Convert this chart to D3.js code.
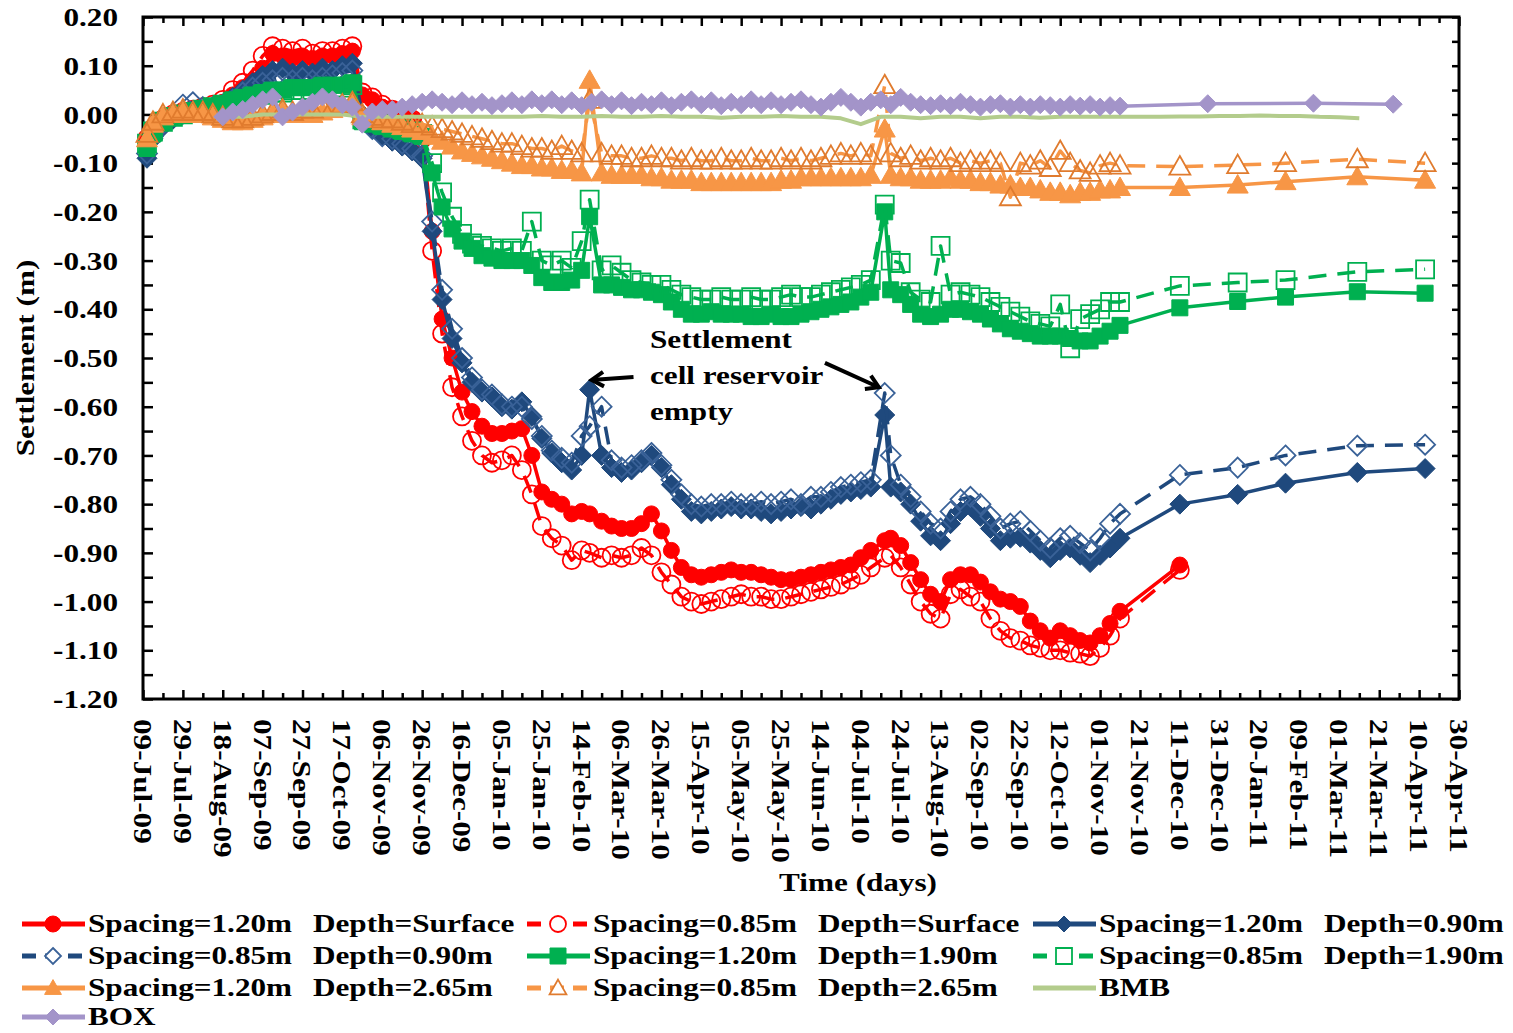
<!DOCTYPE html>
<html>
<head>
<meta charset="utf-8">
<script src="https://cdn.jsdelivr.net/npm/d3@7"></script>
<style>
  body { margin: 0; background: #ffffff; }
  text { font-family: "Liberation Serif", "Times New Roman", serif; font-weight: bold; fill: #000; }
</style>
</head>
<body>
<svg id="chart" width="1513" height="1033"></svg>
<script>
// ---- data (days counted from 09-Jul-09) ----
var days = [
  2,5,10,15,20,25,30,35,40,45,
  50,55,60,65,70,75,80,85,90,95,
  100,105,110,115,120,125,130,135,140,145,
  150,155,160,165,170,175,180,185,190,195,
  200,205,210,215,220,224,230,235,240,245,
  250,255,260,265,270,275,280,285,290,295,
  300,305,310,315,320,325,330,335,340,345,
  350,355,360,365,372,375,380,385,390,395,
  400,405,410,415,420,425,430,435,440,445,
  450,455,460,465,470,475,480,485,490,
  520,549,573,609,643
];

var red120 = [
  -0.05,-0.03,-0.01,0.0,0.005,0.01,0.01,0.015,0.025,0.04,
  0.055,0.07,0.095,0.125,0.12,0.115,0.12,0.115,0.12,0.12,
  0.125,0.13,0.04,0.03,0.015,0.01,0.005,-0.01,-0.04,-0.24,
  -0.42,-0.50,-0.57,-0.61,-0.64,-0.655,-0.655,-0.65,-0.645,-0.70,
  -0.775,-0.79,-0.80,-0.82,-0.815,-0.82,-0.835,-0.845,-0.85,-0.85,
  -0.84,-0.82,-0.855,-0.895,-0.93,-0.945,-0.95,-0.945,-0.94,-0.935,
  -0.94,-0.94,-0.945,-0.95,-0.955,-0.955,-0.95,-0.945,-0.94,-0.935,
  -0.93,-0.925,-0.91,-0.895,-0.875,-0.87,-0.885,-0.92,-0.955,-0.985,
  -1.0,-0.955,-0.945,-0.945,-0.96,-0.98,-0.995,-1.0,-1.01,-1.04,
  -1.06,-1.075,-1.06,-1.07,-1.08,-1.085,-1.07,-1.045,-1.02,
  -0.925,null,null,null,null
];

var red085 = [
  -0.05,-0.03,-0.01,0.0,0.005,0.01,0.015,0.02,0.03,0.05,
  0.065,0.09,0.12,0.14,0.135,0.13,0.135,0.125,0.13,0.13,
  0.135,0.14,0.045,0.035,0.02,0.01,0.0,-0.01,-0.05,-0.28,
  -0.45,-0.56,-0.62,-0.67,-0.70,-0.715,-0.71,-0.70,-0.73,-0.78,
  -0.845,-0.87,-0.885,-0.915,-0.895,-0.90,-0.91,-0.905,-0.91,-0.905,
  -0.89,-0.905,-0.94,-0.965,-0.99,-1.0,-1.005,-1.0,-0.995,-0.99,
  -0.985,-0.99,-0.99,-0.995,-0.995,-0.99,-0.985,-0.98,-0.975,-0.97,
  -0.965,-0.955,-0.945,-0.93,-0.91,-0.905,-0.93,-0.965,-1.0,-1.025,
  -1.035,-0.985,-0.975,-0.99,-1.0,-1.035,-1.06,-1.075,-1.08,-1.09,
  -1.095,-1.1,-1.1,-1.105,-1.107,-1.112,-1.095,-1.07,-1.035,
  -0.935,null,null,null,null
];

var blue120 = [
  -0.09,-0.05,-0.025,-0.01,0.0,0.005,0.01,0.015,0.02,0.035,
  0.05,0.065,0.08,0.09,0.095,0.085,0.09,0.085,0.095,0.09,
  0.10,0.105,0.0,-0.03,-0.045,-0.055,-0.065,-0.075,-0.09,-0.24,
  -0.38,-0.46,-0.51,-0.55,-0.57,-0.58,-0.60,-0.605,-0.59,-0.62,
  -0.665,-0.695,-0.715,-0.73,-0.70,-0.565,-0.70,-0.725,-0.735,-0.73,
  -0.715,-0.70,-0.725,-0.76,-0.79,-0.815,-0.82,-0.815,-0.81,-0.805,
  -0.81,-0.81,-0.815,-0.82,-0.815,-0.81,-0.805,-0.81,-0.80,-0.79,
  -0.78,-0.775,-0.77,-0.765,-0.617,-0.765,-0.775,-0.80,-0.835,-0.865,
  -0.875,-0.84,-0.815,-0.805,-0.825,-0.85,-0.875,-0.87,-0.868,-0.88,
  -0.895,-0.91,-0.895,-0.89,-0.905,-0.92,-0.905,-0.89,-0.87,
  -0.80,-0.78,-0.757,-0.735,-0.727
];

var blue085 = [
  -0.08,-0.045,-0.02,0.0,0.02,0.025,0.015,0.015,0.02,0.03,
  0.045,0.055,0.065,0.07,0.075,0.07,0.075,0.07,0.075,0.08,
  0.085,0.09,-0.005,-0.03,-0.045,-0.05,-0.06,-0.07,-0.085,-0.22,
  -0.36,-0.44,-0.50,-0.54,-0.565,-0.575,-0.595,-0.60,-0.60,-0.625,
  -0.66,-0.69,-0.705,-0.715,-0.66,-0.64,-0.60,-0.71,-0.725,-0.72,
  -0.71,-0.695,-0.72,-0.75,-0.78,-0.80,-0.805,-0.80,-0.80,-0.795,
  -0.80,-0.80,-0.795,-0.80,-0.795,-0.79,-0.80,-0.785,-0.785,-0.775,
  -0.765,-0.76,-0.755,-0.75,-0.572,-0.70,-0.76,-0.785,-0.815,-0.84,
  -0.85,-0.815,-0.79,-0.785,-0.80,-0.825,-0.85,-0.84,-0.835,-0.855,
  -0.875,-0.89,-0.87,-0.865,-0.88,-0.895,-0.87,-0.84,-0.82,
  -0.74,-0.725,-0.70,-0.68,-0.678
];

var green120 = [
  -0.07,-0.04,-0.015,-0.005,0.0,0.005,0.01,0.015,0.02,0.03,
  0.035,0.04,0.045,0.05,0.05,0.055,0.055,0.055,0.06,0.06,
  0.06,0.065,-0.015,-0.02,-0.025,-0.03,-0.035,-0.04,-0.045,-0.12,
  -0.19,-0.235,-0.26,-0.275,-0.29,-0.295,-0.30,-0.30,-0.30,-0.31,
  -0.335,-0.345,-0.345,-0.34,-0.32,-0.21,-0.35,-0.35,-0.355,-0.36,
  -0.36,-0.365,-0.37,-0.385,-0.40,-0.41,-0.41,-0.405,-0.41,-0.41,
  -0.41,-0.415,-0.415,-0.41,-0.415,-0.415,-0.41,-0.405,-0.40,-0.395,
  -0.39,-0.385,-0.375,-0.365,-0.20,-0.36,-0.37,-0.39,-0.41,-0.415,
  -0.41,-0.40,-0.40,-0.405,-0.41,-0.42,-0.43,-0.44,-0.445,-0.45,
  -0.455,-0.455,-0.455,-0.46,-0.465,-0.465,-0.455,-0.445,-0.433,
  -0.397,-0.384,-0.375,-0.364,-0.367
];

var green085 = [
  -0.06,-0.035,-0.015,-0.005,0.0,0.005,0.01,0.015,0.02,0.025,
  0.03,0.035,0.04,0.045,0.045,0.05,0.05,0.05,0.055,0.055,
  0.055,0.06,-0.01,-0.015,-0.02,-0.025,-0.03,-0.035,-0.04,-0.10,
  -0.16,-0.21,-0.245,-0.265,-0.27,-0.275,-0.28,-0.275,-0.28,-0.22,
  -0.30,-0.31,-0.30,-0.315,-0.26,-0.175,-0.32,-0.31,-0.325,-0.34,
  -0.345,-0.35,-0.35,-0.36,-0.37,-0.375,-0.38,-0.38,-0.375,-0.38,
  -0.38,-0.375,-0.38,-0.38,-0.375,-0.37,-0.375,-0.375,-0.37,-0.365,
  -0.36,-0.355,-0.35,-0.34,-0.185,-0.30,-0.305,-0.365,-0.38,-0.385,
  -0.27,-0.37,-0.365,-0.37,-0.375,-0.385,-0.395,-0.405,-0.415,-0.425,
  -0.43,-0.435,-0.39,-0.48,-0.42,-0.41,-0.40,-0.385,-0.385,
  -0.352,-0.345,-0.34,-0.323,-0.318
];

var orange120 = [
  -0.05,-0.02,-0.005,0.0,0.005,0.0,0.0,-0.005,-0.01,-0.015,
  -0.015,-0.01,-0.005,0.0,0.005,0.0,0.005,0.0,0.005,0.01,
  0.015,0.02,-0.005,-0.01,-0.015,-0.02,-0.025,-0.03,-0.035,-0.045,
  -0.055,-0.065,-0.075,-0.08,-0.085,-0.09,-0.095,-0.10,-0.105,-0.105,
  -0.11,-0.11,-0.115,-0.115,-0.12,0.07,-0.12,-0.125,-0.125,-0.125,
  -0.125,-0.13,-0.13,-0.135,-0.135,-0.135,-0.14,-0.14,-0.14,-0.14,
  -0.14,-0.14,-0.14,-0.14,-0.135,-0.135,-0.13,-0.13,-0.13,-0.13,
  -0.13,-0.13,-0.13,-0.125,-0.03,-0.125,-0.13,-0.13,-0.135,-0.135,
  -0.135,-0.13,-0.135,-0.135,-0.14,-0.14,-0.145,-0.145,-0.15,-0.15,
  -0.155,-0.16,-0.16,-0.165,-0.16,-0.16,-0.155,-0.155,-0.15,
  -0.15,-0.145,-0.138,-0.128,-0.135
];

var orange085 = [
  -0.04,-0.015,0.0,0.005,0.01,0.005,0.005,0.0,-0.005,-0.01,
  -0.01,-0.005,0.0,0.005,0.01,0.005,0.01,0.01,0.015,0.015,
  0.02,0.025,0.0,-0.005,-0.01,-0.01,-0.015,-0.02,-0.02,-0.025,
  -0.03,-0.035,-0.04,-0.045,-0.05,-0.055,-0.06,-0.06,-0.065,-0.07,
  -0.07,-0.075,-0.065,-0.075,-0.08,0.03,-0.08,-0.085,-0.085,-0.09,
  -0.09,-0.085,-0.09,-0.09,-0.095,-0.09,-0.095,-0.095,-0.09,-0.095,
  -0.095,-0.09,-0.095,-0.095,-0.09,-0.095,-0.09,-0.095,-0.09,-0.085,
  -0.08,-0.085,-0.08,-0.085,0.06,-0.08,-0.09,-0.085,-0.095,-0.09,
  -0.095,-0.09,-0.10,-0.095,-0.10,-0.095,-0.10,-0.17,-0.10,-0.105,
  -0.095,-0.11,-0.075,-0.10,-0.115,-0.12,-0.105,-0.10,-0.105,
  -0.107,-0.104,-0.10,-0.092,-0.10
];

var bmbDays = [
  40,50,60,70,80,90,100,110,120,130,140,150,160,170,180,190,200,210,220,230,
  240,250,260,270,280,290,300,310,320,330,340,350,360,370,380,390,400,410,420,430,
  440,450,460,470,480,490,500,510,520,530,540,550,560,570,580,590,600,610
];
var bmbValues = [
  -0.005,-0.005,0.0,0.0,0.0,0.0,0.0,-0.005,-0.005,-0.005,-0.005,-0.005,-0.005,-0.005,-0.005,-0.005,-0.003,-0.005,-0.005,-0.003,
  -0.005,-0.005,-0.003,-0.005,-0.005,-0.007,-0.005,-0.005,-0.003,-0.005,-0.005,-0.008,-0.02,-0.005,-0.005,-0.008,-0.005,-0.005,-0.008,-0.005,
  -0.005,-0.007,-0.005,-0.005,-0.005,-0.005,-0.005,-0.005,-0.004,-0.004,-0.003,-0.003,-0.002,-0.003,-0.003,-0.005,-0.006,-0.008
];

var boxDays = [
  40,45,50,55,60,65,70,75,80,85,90,95,100,105,110,115,120,125,130,135,
  140,145,150,155,160,165,170,175,180,185,190,195,200,205,210,215,220,225,230,235,
  240,245,250,255,260,265,270,275,280,285,290,295,300,305,310,315,320,325,330,335,
  340,345,350,355,360,365,370,375,380,385,390,395,400,405,410,415,420,425,430,435,
  440,445,450,455,460,465,470,475,480,485,490,534,587,627
];
var boxValues = [
  -0.005,0.005,0.01,0.02,0.03,0.036,-0.005,0.005,0.015,0.025,0.036,0.03,0.02,0.015,-0.02,0.005,0.01,0.01,0.015,0.02,
  0.025,0.03,0.025,0.02,0.028,0.02,0.025,0.018,0.022,0.028,0.02,0.03,0.022,0.03,0.02,0.028,0.018,0.025,0.03,0.02,
  0.028,0.018,0.025,0.02,0.028,0.018,0.025,0.03,0.02,0.028,0.018,0.025,0.02,0.03,0.02,0.028,0.02,0.025,0.03,0.02,
  0.015,0.025,0.035,0.025,0.015,0.025,0.03,0.02,0.035,0.025,0.02,0.018,0.022,0.018,0.025,0.02,0.015,0.02,0.022,0.015,
  0.02,0.015,0.02,0.018,0.015,0.02,0.017,0.02,0.015,0.018,0.017,0.022,0.023,0.021
];

var yTickValues = [0.2,0.1,0.0,-0.1,-0.2,-0.3,-0.4,-0.5,-0.6,-0.7,-0.8,-0.9,-1.0,-1.1,-1.2];

// ---- series styling ----
var series = [
  {spacing:"Spacing=1.20m", depth:"Depth=Surface", days:days, values:red120,   color:"#FF0000", edge:"#FF0000", dash:null, marker:"circle",   filled:true,  size:8},
  {spacing:"Spacing=0.85m", depth:"Depth=Surface", days:days, values:red085,   color:"#FF0000", edge:"#FF0000", dash:"18,11", marker:"circle", filled:false, size:9},
  {spacing:"Spacing=1.20m", depth:"Depth=0.90m",   days:days, values:blue120,  color:"#1F497D", edge:"#1F497D", dash:null, marker:"diamond",  filled:true,  size:10},
  {spacing:"Spacing=0.85m", depth:"Depth=0.90m",   days:days, values:blue085,  color:"#1F497D", edge:"#3A6298", dash:"18,11", marker:"diamond", filled:false, size:10},
  {spacing:"Spacing=1.20m", depth:"Depth=1.90m",   days:days, values:green120, color:"#00B050", edge:"#00B050", dash:null, marker:"square",   filled:true,  size:8},
  {spacing:"Spacing=0.85m", depth:"Depth=1.90m",   days:days, values:green085, color:"#00B050", edge:"#00B050", dash:"18,11", marker:"square", filled:false, size:9},
  {spacing:"Spacing=1.20m", depth:"Depth=2.65m",   days:days, values:orange120,color:"#F79646", edge:"#F79646", dash:null, marker:"triangle", filled:true,  size:10},
  {spacing:"Spacing=0.85m", depth:"Depth=2.65m",   days:days, values:orange085,color:"#F79646", edge:"#E07B2E", dash:"18,11", marker:"triangle", filled:false, size:10},
  {spacing:"BMB", depth:"", days:bmbDays, values:bmbValues, color:"#B3CC8C", edge:"#B3CC8C", dash:null, marker:null, filled:true, size:0, width:4},
  {spacing:"BOX", depth:"", days:boxDays, values:boxValues, color:"#A394C9", edge:"#A394C9", dash:null, marker:"diamond", filled:true, size:9}
];

var startDate = new Date(Date.UTC(2009, 6, 9));
var endDate = new Date(Date.UTC(2011, 3, 30));
function toDate(d) { return d3.utcDay.offset(startDate, d); }

var svg = d3.select("#chart");
svg.append("rect").attr("width", 1513).attr("height", 1033).attr("fill", "#fff");

var plot = {left: 143, top: 17, right: 1459, bottom: 699};
var x = d3.scaleUtc().domain([startDate, endDate]).range([plot.left, plot.right]);
var y = d3.scaleLinear().domain([-1.2, 0.2]).range([plot.bottom, plot.top]);

function markerPath(type, s) {
  if (type === "circle") return d3.symbol(d3.symbolCircle, Math.PI * s * s)();
  if (type === "diamond") return "M0," + (-s) + "L" + s + ",0L0," + s + "L" + (-s) + ",0Z";
  if (type === "square") return "M" + (-s) + "," + (-s) + "h" + (2 * s) + "v" + (2 * s) + "h" + (-2 * s) + "Z";
  if (type === "triangle") return "M0," + (-s * 1.05) + "L" + (s * 1.05) + "," + (s * 0.8) + "L" + (-s * 1.05) + "," + (s * 0.8) + "Z";
  return "";
}

// ---- axes ----
var majorTicks = d3.range(0, 661, 20).map(toDate);
var minorTicks = d3.range(10, 661, 20).map(toDate);
var yTicksAll = d3.range(0, 29).map(function (i) { return 0.2 - i * 0.05; });

function styleTicks(g) {
  g.select(".domain").remove();
  g.selectAll("line").attr("stroke", "#000").attr("stroke-width", 2.5);
  g.selectAll("text").remove();
}

svg.append("g").attr("transform", "translate(0," + plot.bottom + ")")
  .call(d3.axisBottom(x).tickValues(majorTicks).tickSize(-9)).call(styleTicks);
svg.append("g").attr("transform", "translate(0," + plot.bottom + ")")
  .call(d3.axisBottom(x).tickValues(minorTicks).tickSize(-6)).call(styleTicks);
svg.append("g").attr("transform", "translate(0," + plot.top + ")")
  .call(d3.axisTop(x).tickValues(majorTicks).tickSize(-9)).call(styleTicks);
svg.append("g").attr("transform", "translate(0," + plot.top + ")")
  .call(d3.axisTop(x).tickValues(minorTicks).tickSize(-6)).call(styleTicks);
svg.append("g").attr("transform", "translate(" + plot.left + ",0)")
  .call(d3.axisLeft(y).tickValues(yTicksAll).tickSize(-10)).call(styleTicks);
svg.append("g").attr("transform", "translate(" + plot.right + ",0)")
  .call(d3.axisRight(y).tickValues(yTicksAll).tickSize(-7)).call(styleTicks);

svg.append("rect")
  .attr("x", plot.left).attr("y", plot.top)
  .attr("width", plot.right - plot.left).attr("height", plot.bottom - plot.top)
  .attr("fill", "none").attr("stroke", "#000").attr("stroke-width", 3);

// tick labels
var fmtDate = d3.utcFormat("%d-%b-%y");
svg.append("g").selectAll("text").data(majorTicks).enter().append("text")
  .attr("transform", function (d) { return "translate(" + x(d) + ",719) rotate(90) scale(1.2,1)"; })
  .attr("dy", "0.35em")
  .attr("font-size", 26)
  .text(fmtDate);

svg.append("g").selectAll("text").data(yTickValues).enter().append("text")
  .attr("transform", function (d) { return "translate(118," + y(d) + ") scale(1.2,1)"; })
  .attr("text-anchor", "end")
  .attr("dy", "0.35em")
  .attr("font-size", 26)
  .text(function (d) { return Math.abs(d) < 1e-9 ? "0.00" : d.toFixed(2); });

svg.append("text")
  .attr("transform", "translate(858,891) scale(1.2,1)")
  .attr("text-anchor", "middle").attr("font-size", 26)
  .text("Time (days)");

svg.append("text")
  .attr("transform", "translate(34,358) rotate(-90) scale(1.2,1)")
  .attr("text-anchor", "middle").attr("font-size", 26)
  .text("Settlement (m)");

// ---- series ----
var seriesG = svg.append("g");
series.forEach(function (s) {
  var pts = s.days.map(function (d, i) { return {date: toDate(d), v: s.values[i]}; })
    .filter(function (p) { return p.v !== null; });
  var line = d3.line().x(function (p) { return x(p.date); }).y(function (p) { return y(p.v); });
  var g = seriesG.append("g");
  g.append("path")
    .attr("d", line(pts))
    .attr("fill", "none")
    .attr("stroke", s.color)
    .attr("stroke-width", s.width || 3.5)
    .attr("stroke-dasharray", s.dash)
    .attr("stroke-linejoin", "round");
  if (s.marker) {
    g.selectAll(".mk").data(pts).enter().append("path")
      .attr("class", "mk")
      .attr("d", markerPath(s.marker, s.size))
      .attr("transform", function (p) { return "translate(" + x(p.date) + "," + y(p.v) + ")"; })
      .attr("fill", s.filled ? s.color : "none")
      .attr("stroke", s.edge)
      .attr("stroke-width", s.filled ? 1 : 1.8);
  }
});

// ---- annotation ----
var ann = svg.append("g");
["Settlement", "cell reservoir", "empty"].forEach(function (t, i) {
  ann.append("text")
    .attr("transform", "translate(650," + (348 + i * 36) + ") scale(1.2,1)")
    .attr("font-size", 26)
    .text(t);
});
function arrow(x1, y1, x2, y2) {
  var a = Math.atan2(y2 - y1, x2 - x1), h = 14;
  ann.append("line").attr("x1", x1).attr("y1", y1).attr("x2", x2).attr("y2", y2)
    .attr("stroke", "#000").attr("stroke-width", 4);
  ann.append("path")
    .attr("d", "M" + (x2 - h * Math.cos(a - 0.55)) + "," + (y2 - h * Math.sin(a - 0.55)) +
               "L" + x2 + "," + y2 +
               "L" + (x2 - h * Math.cos(a + 0.55)) + "," + (y2 - h * Math.sin(a + 0.55)))
    .attr("fill", "none").attr("stroke", "#000").attr("stroke-width", 4)
    .attr("stroke-linejoin", "miter");
}
arrow(x(toDate(246)), y(-0.539), x(toDate(225)), y(-0.545));
arrow(x(toDate(342)), y(-0.51), x(toDate(369)), y(-0.56));

// ---- legend ----
var colX = [22, 527, 1033];
var rowY = [924, 956, 988, 1017];
var legend = svg.append("g");
series.forEach(function (s, i) {
  var cx = colX[i % 3], cy = rowY[Math.floor(i / 3)];
  var g = legend.append("g").attr("transform", "translate(" + cx + "," + cy + ")");
  g.append("line").attr("x1", 0).attr("x2", 63).attr("y1", 0).attr("y2", 0)
    .attr("stroke", s.color).attr("stroke-width", 5)
    .attr("stroke-dasharray", s.dash ? "14,9" : null);
  if (s.marker) {
    g.append("path")
      .attr("d", markerPath(s.marker, Math.min(s.size, 8)))
      .attr("transform", "translate(31,0)")
      .attr("fill", s.filled ? s.color : "#fff")
      .attr("stroke", s.edge).attr("stroke-width", s.filled ? 1 : 1.8);
  }
  g.append("text").attr("transform", "translate(66,8) scale(1.2,1)")
    .attr("font-size", 26).text(s.spacing);
  if (s.depth) {
    g.append("text").attr("transform", "translate(291,8) scale(1.2,1)")
      .attr("font-size", 26).text(s.depth);
  }
});
</script>
</body>
</html>
